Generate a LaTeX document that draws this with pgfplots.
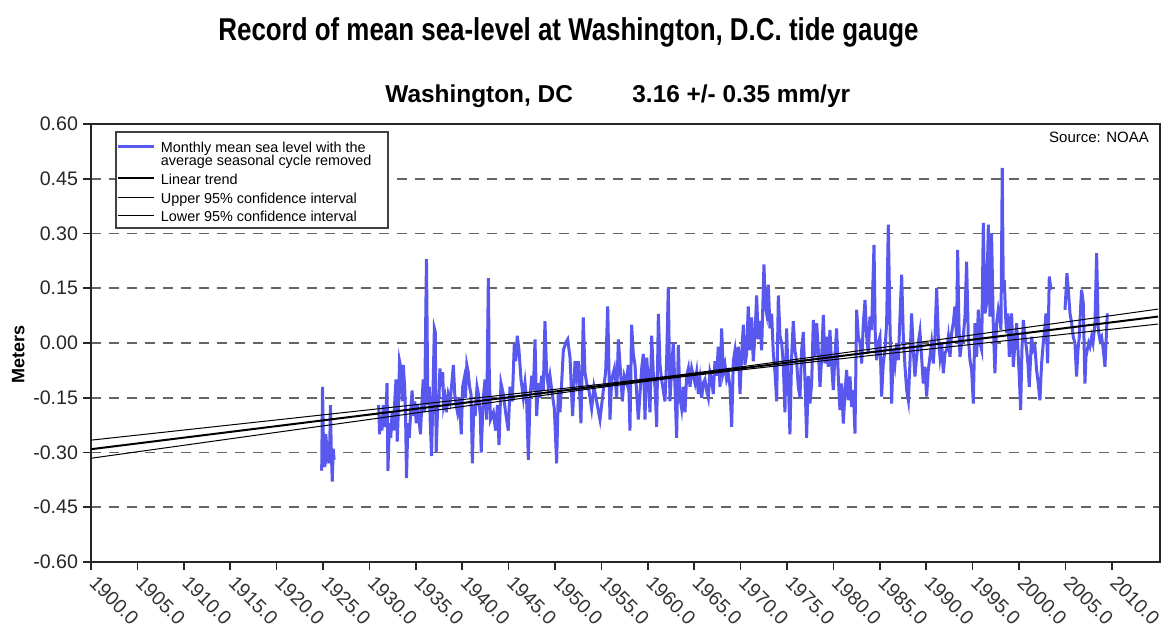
\documentclass[border=0pt]{standalone}
\usepackage{pgfplots}
\pgfplotsset{compat=1.18}
\usepackage{pgfplotstable}
\usepackage{fontspec}
\setmainfont{Liberation Sans}
\newfontfamily\titlefont[FakeStretch=0.82]{Liberation Sans}
\definecolor{seablue}{RGB}{88,88,238}
\definecolor{gridgray}{RGB}{100,100,100}

\pgfplotstableread{
year value
1924.86 -0.35
1924.95 -0.12
1925.05 -0.28
1925.15 -0.34
1925.3 -0.25
1925.45 -0.30
1925.6 -0.27
1925.7 -0.33
1925.8 -0.17
1925.9 -0.30
1926.0 -0.38
1926.1 -0.29
1926.2 -0.32
1928.0 nan
1931.0 -0.17
1931.1 -0.25
1931.2 -0.20
1931.35 -0.24
1931.5 -0.17
1931.65 -0.23
1931.8 -0.19
1931.9 -0.11
1932.0 -0.35
1932.15 -0.22
1932.3 -0.26
1932.45 -0.19
1932.6 -0.24
1932.75 -0.15
1932.87 -0.10
1933.0 -0.27
1933.1 -0.20
1933.25 -0.05
1933.4 -0.07
1933.55 -0.16
1933.65 -0.06
1933.8 -0.12
1933.9 -0.20
1934.0 -0.37
1934.15 -0.22
1934.3 -0.26
1934.45 -0.19
1934.6 -0.13
1934.75 -0.20
1934.9 -0.16
1935.05 -0.22
1935.2 -0.17
1935.35 -0.21
1935.5 -0.25
1935.65 -0.17
1935.8 -0.10
1935.95 -0.19
1936.15 0.23
1936.3 -0.17
1936.45 -0.12
1936.55 -0.21
1936.7 -0.31
1936.85 -0.14
1937.0 0.04
1937.1 0.03
1937.2 -0.30
1937.35 -0.18
1937.5 -0.15
1937.6 -0.07
1937.75 -0.12
1937.9 -0.08
1938.0 -0.17
1938.15 -0.15
1938.3 -0.19
1938.5 -0.14
1938.7 -0.16
1938.85 -0.12
1939.05 -0.06
1939.2 -0.14
1939.35 -0.17
1939.5 -0.19
1939.7 -0.15
1939.9 -0.25
1940.05 -0.12
1940.2 -0.10
1940.35 -0.15
1940.5 -0.06
1940.65 -0.08
1940.8 -0.12
1940.95 -0.14
1941.1 -0.33
1941.25 -0.17
1941.4 -0.20
1941.6 -0.12
1941.75 -0.14
1941.95 -0.20
1942.05 -0.30
1942.28 -0.15
1942.46 -0.10
1942.64 -0.21
1942.82 0.178
1942.92 -0.08
1943.05 -0.21
1943.36 -0.19
1943.6 -0.24
1943.8 -0.17
1943.97 -0.28
1944.18 -0.11
1944.43 -0.14
1944.68 -0.19
1944.97 -0.24
1945.15 -0.12
1945.4 -0.16
1945.62 0.0
1945.76 -0.05
1945.94 0.02
1946.12 -0.02
1946.34 -0.10
1946.59 -0.15
1946.77 -0.11
1946.95 -0.16
1947.13 -0.32
1947.31 -0.15
1947.49 -0.09
1947.67 -0.13
1947.85 0.01
1948.03 -0.20
1948.2 -0.11
1948.38 -0.15
1948.56 -0.09
1948.74 -0.13
1948.92 0.06
1949.1 -0.08
1949.28 -0.12
1949.46 -0.09
1949.71 -0.14
1949.93 -0.18
1950.18 -0.33
1950.36 -0.13
1950.54 -0.19
1950.72 -0.11
1950.9 -0.02
1951.15 0.0
1951.37 0.01
1951.62 -0.04
1951.9 -0.20
1952.16 -0.05
1952.34 -0.09
1952.52 -0.05
1952.8 -0.22
1953.05 0.07
1953.23 -0.08
1953.41 -0.11
1953.66 -0.13
1953.95 -0.18
1954.2 -0.12
1954.49 -0.16
1954.85 -0.21
1955.21 -0.13
1955.46 -0.08
1955.68 0.10
1955.93 -0.21
1956.11 -0.10
1956.4 -0.07
1956.65 -0.15
1956.83 0.01
1957.04 -0.07
1957.26 -0.16
1957.47 -0.09
1957.72 -0.11
1957.9 -0.06
1958.08 -0.24
1958.26 0.05
1958.44 -0.03
1958.62 -0.06
1958.98 -0.21
1959.34 -0.07
1959.52 -0.03
1959.7 -0.21
1959.88 -0.04
1960.06 -0.10
1960.24 -0.19
1960.42 0.02
1960.6 -0.085
1960.78 -0.12
1960.96 -0.23
1961.14 0.08
1961.32 -0.06
1961.49 -0.10
1961.67 -0.13
1961.85 -0.16
1962.03 -0.05
1962.21 0.15
1962.39 -0.16
1962.57 -0.07
1962.75 0.0
1962.93 -0.12
1963.11 -0.26
1963.29 -0.005
1963.47 -0.15
1963.65 -0.18
1963.83 -0.12
1964.01 -0.19
1964.19 -0.09
1964.37 -0.07
1964.55 -0.12
1964.73 -0.07
1964.91 -0.09
1965.09 -0.11
1965.27 -0.08
1965.45 -0.14
1965.63 -0.10
1965.81 -0.15
1965.98 -0.11
1966.16 -0.10
1966.34 -0.13
1966.52 -0.15
1966.7 -0.08
1966.88 -0.10
1967.06 -0.14
1967.24 -0.05
1967.42 -0.09
1967.6 -0.01
1967.78 -0.12
1967.96 0.04
1968.14 -0.08
1968.32 -0.06
1968.5 -0.10
1968.68 -0.085
1968.86 -0.12
1969.04 -0.23
1969.22 -0.05
1969.4 -0.02
1969.58 -0.07
1969.76 -0.01
1969.94 -0.14
1970.12 -0.03
1970.3 0.05
1970.47 -0.06
1970.65 -0.03
1970.83 0.10
1971.01 -0.02
1971.19 0.07
1971.37 -0.05
1971.55 0.02
1971.73 0.13
1971.91 0.01
1972.09 0.06
1972.27 -0.02
1972.52 0.215
1972.67 0.10
1972.81 0.08
1972.99 0.16
1973.17 0.04
1973.35 0.08
1973.53 -0.03
1973.71 -0.08
1973.89 -0.16
1974.07 0.13
1974.25 0.02
1974.43 0.0
1974.61 -0.06
1974.78 -0.19
1974.96 0.04
1975.14 -0.10
1975.32 -0.25
1975.5 -0.04
1975.68 0.06
1975.86 -0.02
1976.04 -0.05
1976.22 -0.12
1976.4 -0.15
1976.58 -0.02
1976.76 0.03
1976.94 -0.10
1977.12 -0.26
1977.3 -0.09
1977.48 -0.166
1977.66 -0.111
1977.84 0.063
1978.02 -0.038
1978.2 0.054
1978.38 -0.019
1978.56 -0.12
1978.74 -0.038
1978.92 0.077
1979.1 -0.056
1979.27 0.017
1979.45 -0.065
1979.63 0.036
1979.81 -0.056
1979.99 -0.129
1980.17 -0.038
1980.35 0.04
1980.53 -0.092
1980.71 -0.184
1980.89 -0.111
1981.07 -0.221
1981.25 -0.138
1981.43 -0.074
1981.61 -0.157
1981.79 -0.092
1981.97 -0.175
1982.15 -0.129
1982.33 -0.248
1982.51 0.091
1982.69 0.017
1982.87 0.0
1983.05 -0.056
1983.23 0.054
1983.41 0.118
1983.59 0.017
1983.76 -0.028
1983.94 0.072
1984.12 0.036
1984.23 0.136
1984.38 0.269
1984.52 0.017
1984.66 -0.047
1984.84 0.0
1985.02 0.017
1985.2 -0.147
1985.38 -0.056
1985.56 -0.019
1985.74 0.054
1985.92 0.324
1986.1 0.054
1986.28 -0.166
1986.46 -0.019
1986.64 -0.056
1986.82 0.0
1987.0 -0.047
1987.18 0.072
1987.36 0.187
1987.54 0.017
1987.72 -0.065
1987.9 -0.129
1988.08 -0.157
1988.25 -0.056
1988.43 0.081
1988.61 -0.019
1988.79 -0.092
1988.97 -0.038
1989.15 0.0
1989.33 0.031
1989.51 -0.038
1989.69 -0.111
1989.87 -0.065
1990.05 -0.147
1990.23 -0.074
1990.41 -0.038
1990.59 0.0
1990.77 -0.056
1990.95 0.017
1991.13 0.15
1991.31 0.017
1991.49 -0.038
1991.67 0.0
1991.85 -0.083
1992.03 -0.028
1992.21 -0.019
1992.39 0.017
1992.57 -0.038
1992.74 0.027
1992.92 0.054
1993.1 0.10
1993.28 0.017
1993.39 0.255
1993.53 0.054
1993.64 -0.038
1993.82 0.0
1994.0 0.017
1994.18 0.072
1994.36 0.223
1994.54 0.017
1994.72 -0.047
1994.9 -0.074
1995.08 -0.166
1995.26 0.054
1995.44 -0.038
1995.62 0.091
1995.8 0.0
1995.98 -0.019
1996.16 0.329
1996.34 0.081
1996.52 0.109
1996.7 0.324
1996.88 0.072
1997.05 0.30
1997.23 0.054
1997.41 -0.083
1997.59 0.054
1997.77 0.091
1997.95 0.063
1998.06 0.036
1998.2 0.48
1998.31 0.146
1998.42 0.173
1998.56 0.072
1998.67 0.027
1998.81 0.081
1998.96 -0.038
1999.1 0.017
1999.21 0.081
1999.39 -0.065
1999.57 0.0
1999.75 0.054
1999.93 -0.038
2000.04 -0.092
2000.18 -0.184
2000.32 -0.019
2000.47 0.063
2000.65 0.017
2000.83 -0.019
2000.97 -0.056
2001.11 -0.12
2001.26 -0.038
2001.36 0.017
2001.54 -0.019
2001.72 -0.01
2001.9 -0.074
2002.08 -0.111
2002.26 -0.157
2002.44 -0.056
2002.62 0.0
2002.8 0.045
2002.91 0.081
2003.09 -0.056
2003.27 0.182
2003.45 0.146
2004.2 nan
2004.96 0.091
2005.06 0.136
2005.17 0.191
2005.32 0.146
2005.5 0.081
2005.68 0.054
2005.85 0.017
2006.03 0.0
2006.21 -0.092
2006.36 -0.019
2006.5 0.017
2006.65 0.10
2006.75 0.146
2006.93 0.109
2007.11 -0.111
2007.22 -0.038
2007.36 -0.019
2007.51 0.0
2007.65 -0.01
2007.83 0.017
2007.98 0.0
2008.19 0.054
2008.37 0.246
2008.55 0.036
2008.73 0.008
2008.91 0.017
2009.09 -0.019
2009.27 -0.065
2009.52 0.081
}\sealevel

\pgfplotstableread{
year trend
1900 -0.291
2015 0.0724
}\trend

\pgfplotstableread{
year upper lower
1900 -0.2662 -0.3158
1920 -0.2108 -0.2448
1940 -0.1551 -0.1741
1955 -0.1129 -0.1215
1963 -0.0889 -0.0949
1970 -0.0657 -0.0739
1985 -0.0133 -0.0315
2000 0.0397 0.0103
2015 0.0929 0.0519
}\conf

\newcommand{\rowA}{\rule[-1.6pt]{0pt}{10.6pt}}
\newcommand{\rowB}{\rule[-1.6pt]{0pt}{6.4pt}}
\newcommand{\rowC}{\rule[-1.6pt]{0pt}{9.5pt}}
\newcommand{\rowD}{\rule[-3.8pt]{0pt}{11.7pt}}

\begin{document}
\begin{tikzpicture}
\useasboundingbox (0,0) rectangle (581.5pt,312pt);
\node[font=\titlefont\bfseries\fontsize{15.8}{18}\selectfont] at (284.25pt,295.8pt) {Record of mean sea-level at Washington, D.C.\ tide gauge};
\node[anchor=base west, inner sep=0pt, font=\bfseries\fontsize{12.2}{14}\selectfont] at (192.5pt,260.5pt) {Washington, DC};
\node[anchor=base west, inner sep=0pt, font=\bfseries\fontsize{12.2}{14}\selectfont] at (316pt,260.5pt) {3.16 +/- 0.35 mm/yr};
\begin{axis}[
  at={(45.5pt,31pt)}, anchor=south west,
  scale only axis, width=534.5pt, height=219pt,
  xmin=1900, xmax=2015.2, ymin=-0.6, ymax=0.6,
  xtick={1900,1905,...,2010},
  ytick={-0.6,-0.45,-0.3,-0.15,0,0.15,0.3,0.45,0.6},
  scaled ticks=false,
  /pgf/number format/assume math mode=true,
  x tick label style={/pgf/number format/fixed, /pgf/number format/fixed zerofill, /pgf/number format/precision=1, /pgf/number format/1000 sep={}, xshift=3.5pt, yshift=-0.5pt, rotate=-45, anchor=north west, inner sep=1pt, font=\fontsize{9.8}{11}\selectfont, text=black!80},
  y tick label style={/pgf/number format/fixed, /pgf/number format/fixed zerofill, /pgf/number format/precision=2, font=\fontsize{9.8}{11}\selectfont, text=black!85, xshift=1pt},
  tick pos=left, tick align=outside,
  major tick length=4pt,
  tick style={black!85, line width=0.8pt},
  axis line style={black!85, line width=1pt},
  ymajorgrids, grid style={gridgray, line width=0.8pt, dash pattern=on 5pt off 4pt},
  ylabel={Meters},
  ylabel style={at={(axis description cs:-0.068,0.473)}, anchor=center, font=\bfseries\fontsize{9}{11}\selectfont},
  unbounded coords=jump,
  legend image code/.code={\draw[#1] (0pt,0.55ex) -- (18pt,0.55ex);},
  legend style={at={(axis description cs:0.0225,0.984)}, anchor=north west,
    draw=black!75, line width=0.8pt, font=\fontsize{7.2}{7}\selectfont,
    row sep=0pt, cells={anchor=base west}, nodes={inner ysep=0pt, inner xsep=2.5pt},
    inner xsep=0.5pt, inner ysep=1.5pt},
]
\addplot[seablue, line width=1.5pt] table[x=year, y=value] {\sealevel};
\addlegendentry{\rowA Monthly mean sea level with the\hspace*{8pt}}
\addlegendimage{empty legend}
\addlegendentry{\rowB\smash{average seasonal cycle removed}}
\addplot[black, line width=1pt] table[x=year, y=trend] {\trend};
\addlegendentry{\rowC Linear trend}
\addplot[black, line width=0.5pt] table[x=year, y=upper] {\conf};
\addlegendentry{\rowC Upper 95\% confidence interval}
\addplot[black, line width=0.5pt] table[x=year, y=lower] {\conf};
\addlegendentry{\rowD Lower 95\% confidence interval}
\node[anchor=north east, inner sep=0pt, font=\fontsize{7.5}{8}\selectfont] at (axis description cs:0.990,0.982) {Source: NOAA};
\end{axis}
\end{tikzpicture}
\end{document}
